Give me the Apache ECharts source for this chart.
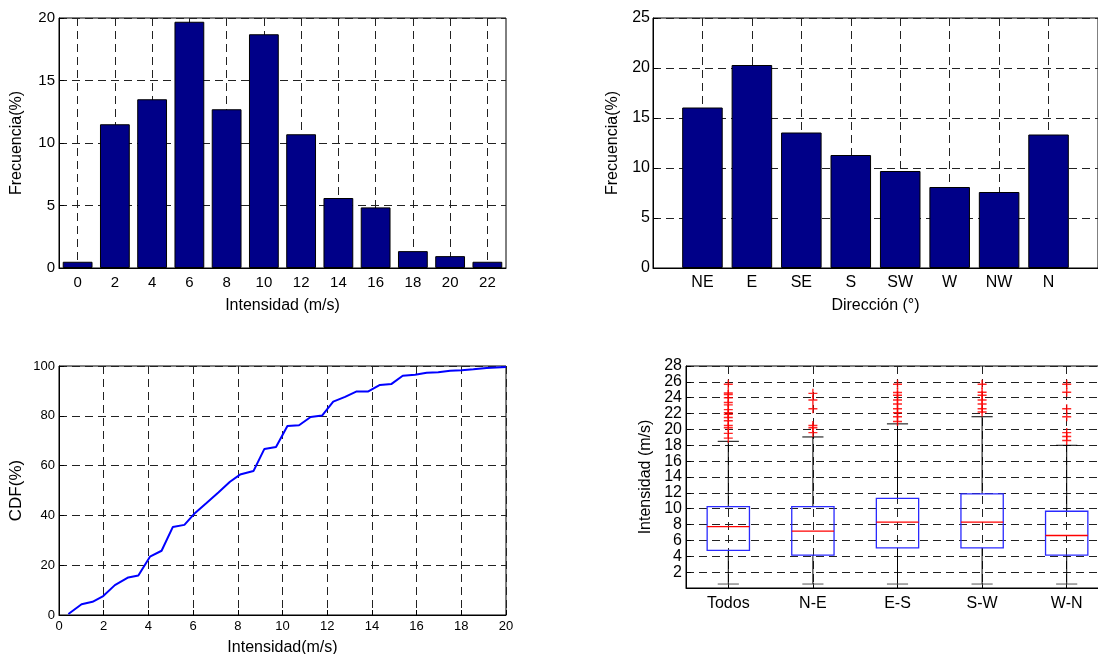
<!DOCTYPE html>
<html><head><meta charset="utf-8">
<script src="https://cdn.jsdelivr.net/npm/echarts@6/dist/echarts.min.js"></script>
<style>html,body{margin:0;padding:0;background:#fff}#c{width:1098px;height:654px}</style>
</head><body><div id="c"></div>
<script>
// ---- data ----
const speedBins = ['0','2','4','6','8','10','12','14','16','18','20','22'];
const speedFreq = [0.5, 11.5, 13.5, 19.7, 12.7, 18.7, 10.7, 5.6, 4.85, 1.35, 0.95, 0.5];

const dirCats = ['NE','E','SE','S','SW','W','NW','N'];
const dirFreq = [16.05, 20.3, 13.55, 11.3, 9.7, 8.1, 7.6, 13.35];

const cdfX = [0.42,1.01,1.5,1.98,2.5,3.1,3.55,4.07,4.59,5.09,5.61,6.09,6.6,7.13,7.65,8.1,8.7,9.19,9.71,10.22,10.74,11.26,11.77,12.27,12.8,13.32,13.84,14.36,14.88,15.38,15.93,16.45,16.97,17.5,18.02,18.54,19.13,20];
const cdfY = [0.4,4.3,5.3,7.6,12,15.1,15.9,23.4,25.8,35.3,36.2,41,45,49.2,53.5,56.4,57.8,66.7,67.5,75.9,76.2,79.5,80.1,85.7,87.6,89.8,89.8,92.4,92.8,96.1,96.5,97.3,97.5,98.1,98.3,98.7,99.2,99.6];

const boxCats = ['Todos','N-E','E-S','S-W','W-N'];
const boxLow = [0.5, 0.5, 0.5, 0.5, 0.5];
const boxQ1 = [4.74, 4.15, 5.07, 5.07, 4.15];
const boxMedian = [7.75, 7.17, 8.3, 8.3, 6.62];
const boxQ3 = [10.27, 10.27, 11.3, 11.86, 9.68];
const boxHigh = [18.5, 19.05, 20.7, 21.6, 18.0];
const outTodos = [25.7,24.6,24.4,24.0,23.4,23.1,22.5,22.1,21.9,21.5,21.1,20.5,20.2,19.5,18.9];
const outNE = [24.55,23.7,22.6,20.5,20.2,19.6];
const outES = [25.7,24.65,24.3,23.7,23.2,22.6,22.1,21.6,21.0];
const outSW = [25.7,24.7,24.3,23.7,23.2,22.6,22.2];
const outWN = [25.7,24.7,22.6,21.6,19.6,19.1,18.6];
const yTicks28 = ['2','4','6','8','10','12','14','16','18','20','22','24','26','28'];

// ---- build ----
const FONT = 'Liberation Sans, Arial, Helvetica, sans-serif';
const dashed = {show:true, lineStyle:{color:'#222', width:1, type:[8,5]}};
const axLine = {show:true, onZero:false, lineStyle:{color:'#000', width:1}};
const tickIn = {show:true, inside:true, length:5, lineStyle:{color:'#000'}};
const lbl = (size, margin) => ({color:'#000', fontSize:size, fontFamily:FONT, margin:margin});
const nameStyle = (size) => ({color:'#000', fontSize:size, fontFamily:FONT});

const dirCatsPadded = [''].concat(dirCats).concat(['']);
const dirData = [null].concat(dirFreq).concat([null]);
const boxData = boxCats.map((c,i)=>[i, boxLow[i], boxQ1[i], boxMedian[i], boxQ3[i], boxHigh[i]]);
const outliers = [outTodos,outNE,outES,outSW,outWN];
const outData = [];
outliers.forEach((arr,i)=>arr.forEach(v=>outData.push([i,v])));

const gridBase = {show:true, borderColor:'#000', borderWidth:1, backgroundColor:'transparent', containLabel:false, outerBoundsMode:'none'};

const option = {
  animation:false,
  textStyle:{fontFamily:FONT},
  grid:[
    Object.assign({left:59, top:18, width:447, height:250}, gridBase),
    Object.assign({left:653, top:18, width:445, height:250}, gridBase),
    Object.assign({left:59, top:366, width:447, height:249}, gridBase),
    Object.assign({left:686, top:366, width:423, height:222}, gridBase)
  ],
  xAxis:[
    {type:'category', gridIndex:0, data:speedBins, boundaryGap:true,
     axisLine:axLine, axisTick:Object.assign({alignWithLabel:true}, tickIn),
     splitLine:Object.assign({alignWithLabel:true}, dashed),
     axisLabel:lbl(15,7), name:'Intensidad (m/s)', nameLocation:'middle', nameGap:30, nameTextStyle:nameStyle(16)},
    {type:'category', gridIndex:1, data:dirCatsPadded, boundaryGap:false,
     axisLine:axLine, axisTick:tickIn, splitLine:dashed,
     axisLabel:lbl(16,7), name:'Dirección (°)', nameLocation:'middle', nameGap:30, nameTextStyle:nameStyle(16)},
    {type:'value', gridIndex:2, min:0, max:20, interval:2,
     axisLine:axLine, axisTick:tickIn, splitLine:dashed,
     axisLabel:lbl(13,5), name:'Intensidad(m/s)', nameLocation:'middle', nameGap:25, nameTextStyle:nameStyle(16)},
    {type:'category', gridIndex:3, data:boxCats, boundaryGap:true,
     axisLine:axLine, axisTick:Object.assign({alignWithLabel:true}, tickIn),
     splitLine:Object.assign({alignWithLabel:true}, dashed),
     axisLabel:lbl(16,8)}
  ],
  yAxis:[
    {type:'value', gridIndex:0, min:0, max:20, interval:5,
     axisLine:axLine, axisTick:tickIn, splitLine:dashed,
     axisLabel:lbl(15,4), name:'Frecuencia(%)', nameLocation:'middle', nameGap:34, nameTextStyle:nameStyle(16)},
    {type:'value', gridIndex:1, min:0, max:25, interval:5,
     axisLine:axLine, axisTick:tickIn, splitLine:dashed,
     axisLabel:lbl(16,3), name:'Frecuencia(%)', nameLocation:'middle', nameGap:32, nameTextStyle:nameStyle(16)},
    {type:'value', gridIndex:2, min:0, max:100, interval:20,
     axisLine:axLine, axisTick:tickIn, splitLine:dashed,
     axisLabel:lbl(13,4), name:'CDF(%)', nameLocation:'middle', nameGap:34, nameTextStyle:nameStyle(17)},
    {type:'value', gridIndex:3, min:0, max:28, interval:2,
     axisLine:axLine, axisTick:tickIn, splitLine:dashed,
     axisLabel:Object.assign(lbl(16,4), {showMinLabel:false, formatter:(v)=> v===0 ? '' : yTicks28[v/2-1]}),
     name:'Intensidad (m/s)', nameLocation:'middle', nameGap:32, nameTextStyle:nameStyle(16)}
  ],
  series:[
    {type:'bar', xAxisIndex:0, yAxisIndex:0, data:speedFreq, barWidth:'80%',
     itemStyle:{color:'#000088', borderColor:'#000', borderWidth:1}},
    {type:'bar', xAxisIndex:1, yAxisIndex:1, data:dirData, barWidth:'82%',
     itemStyle:{color:'#000088', borderColor:'#000', borderWidth:1}},
    {type:'line', xAxisIndex:2, yAxisIndex:2, data:cdfX.map((x,i)=>[x,cdfY[i]]),
     symbol:'none', lineStyle:{color:'#0000ff', width:2}},
    {type:'custom', xAxisIndex:3, yAxisIndex:3, data:boxData,
     encode:{x:0, y:[1,2,3,4,5]},
     renderItem:function(params, api){
       const i = api.value(0);
       const band = api.size([1,0])[0];
       const cx = api.coord([i, 0])[0];
       const yLow = api.coord([i, api.value(1)])[1];
       const yQ1 = api.coord([i, api.value(2)])[1];
       const yMed = api.coord([i, api.value(3)])[1];
       const yQ3 = api.coord([i, api.value(4)])[1];
       const yHigh = api.coord([i, api.value(5)])[1];
       const hb = band*0.25, hc = band*0.125;
       const blk = {stroke:'#000', lineWidth:1};
       return {type:'group', children:[
         {type:'line', shape:{x1:cx,y1:yQ3,x2:cx,y2:yHigh}, style:blk},
         {type:'line', shape:{x1:cx,y1:yQ1,x2:cx,y2:yLow}, style:blk},
         {type:'line', shape:{x1:cx-hc,y1:yHigh,x2:cx+hc,y2:yHigh}, style:blk},
         {type:'line', shape:{x1:cx-hc,y1:yLow,x2:cx+hc,y2:yLow}, style:{stroke:'#555', lineWidth:1}},
         {type:'rect', shape:{x:cx-hb, y:yQ3, width:2*hb, height:yQ1-yQ3}, style:{fill:'none', stroke:'#2a2aff', lineWidth:1.3}},
         {type:'line', shape:{x1:cx-hb,y1:yMed,x2:cx+hb,y2:yMed}, style:{stroke:'#ff0000', lineWidth:1.3}}
       ]};
     }},
    {type:'scatter', xAxisIndex:3, yAxisIndex:3, data:outData,
     symbol:'path://M0,4.2h10v1.6h-10z M4.2,0h1.6v10h-1.6z', symbolSize:[9,9],
     itemStyle:{color:'#ff0000', opacity:0.85}}
  ]
};
const chart = echarts.init(document.getElementById('c'), null, {renderer:'canvas'});
chart.setOption(option);
</script></body></html>
